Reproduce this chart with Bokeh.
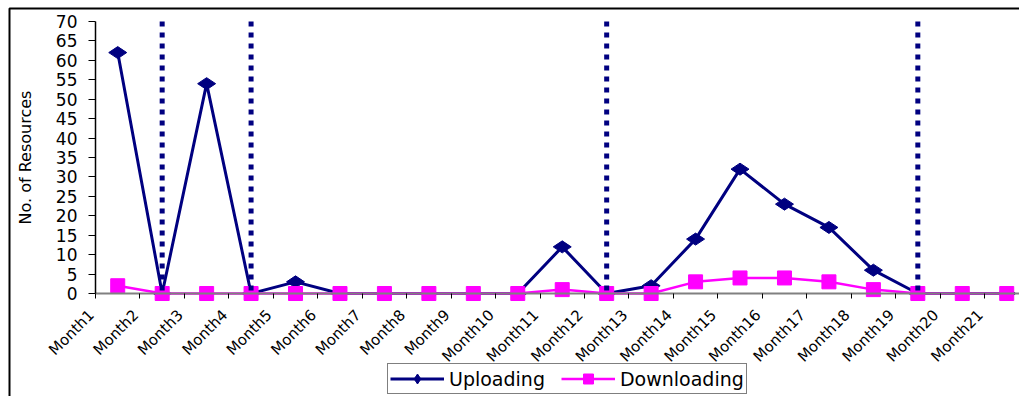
import math
from bokeh.plotting import figure
from bokeh.models import FixedTicker, Range1d, Legend, LegendItem, BoxAnnotation, LinearAxis
from bokeh.embed import file_html
from bokeh.resources import INLINE

months = ["Month1", "Month2", "Month3", "Month4", "Month5", "Month6", "Month7",
          "Month8", "Month9", "Month10", "Month11", "Month12", "Month13", "Month14",
          "Month15", "Month16", "Month17", "Month18", "Month19", "Month20", "Month21"]
uploading = [62, 0, 54, 0, 3, 0, 0, 0, 0, 0, 12, 0, 2, 14, 32, 23, 17, 6, 0, 0, 0]
downloading = [2, 0, 0, 0, 0, 0, 0, 0, 0, 0, 1, 0, 0, 3, 4, 4, 3, 1, 0, 0, 0]
marked_months = ["Month2", "Month4", "Month12", "Month19"]
y_ticks = [0, 5, 10, 15, 20, 25, 30, 35, 40, 45, 50, 55, 60, 65, 70]

FONT = "DejaVu Sans"
NAVY = "#000080"
MAGENTA = "#FF00FF"

W, H = 1019, 396
# plot-area placement (pixels) and scales
AX_X, AX_Y, TOP_Y = 95, 293, 21
CAT_W = 44.45
Y_PX = (AX_Y - TOP_Y) / y_ticks[-1]
LABEL_SHIFT = 0.09  # labels end slightly left of the boundary tick

x_start = -AX_X / CAT_W
x_end = (W - AX_X) / CAT_W
y_end = y_ticks[-1] + TOP_Y / Y_PX
y_start = -(H - AX_Y) / Y_PX

# category centres sit half-way between boundary ticks
xs = [i + 0.5 for i in range(len(months))]

p = figure(width=W, height=H, output_backend="svg", toolbar_location=None,
           x_range=Range1d(x_start, x_end), y_range=Range1d(y_start, y_end),
           min_border_left=0, min_border_right=0, min_border_top=0,
           min_border_bottom=0)
p.extra_x_ranges = {"lab": Range1d(x_start + LABEL_SHIFT, x_end + LABEL_SHIFT)}
p.outline_line_color = None
p.xgrid.visible = False
p.ygrid.visible = False
p.background_fill_color = "#FFFFFF"

# chart-area border (top and left edges visible)
p.add_layout(BoxAnnotation(left=9, right=W + 50, top=H - 8, bottom=-60,
                           left_units="screen", right_units="screen",
                           top_units="screen", bottom_units="screen",
                           fill_color=None, line_color="#000000",
                           line_alpha=1.0, line_width=2))

# x axis: line and boundary ticks
xa = p.xaxis[0]
xa.ticker = FixedTicker(ticks=list(range(0, len(months) + 1)))
xa.major_label_overrides = {i: "" for i in range(len(months) + 1)}
xa.fixed_location = 0
xa.bounds = (0, x_end)
xa.axis_line_color = "#808080"
xa.axis_line_width = 2
xa.major_tick_out = 5
xa.major_tick_in = 0
xa.major_tick_line_color = "#000000"
xa.minor_tick_line_color = None

# x axis: month labels
xl = LinearAxis(x_range_name="lab", fixed_location=0,
                ticker=FixedTicker(ticks=list(range(len(months)))),
                major_label_overrides={i: months[i] for i in range(len(months))},
                major_label_orientation=math.pi / 4,
                axis_line_color=None, major_tick_line_color=None,
                minor_tick_line_color=None, major_tick_out=5, major_tick_in=0,
                major_label_text_font=FONT, major_label_text_font_size="15px",
                major_label_text_color="#000000", major_label_standoff=14)
p.add_layout(xl, "below")

# y axis
ya = p.yaxis[0]
ya.ticker = FixedTicker(ticks=y_ticks)
ya.fixed_location = 0
ya.bounds = (y_ticks[0], y_ticks[-1])
ya.axis_line_color = "#000000"
ya.axis_line_width = 1.5
ya.major_tick_out = 7
ya.major_tick_in = 0
ya.minor_tick_line_color = None
ya.major_tick_line_color = "#000000"
ya.major_label_text_font = FONT
ya.major_label_text_font_size = "17px"
ya.major_label_text_color = "#000000"
ya.major_label_standoff = 11
ya.axis_label = "No. of Resources"
ya.axis_label_text_font = FONT
ya.axis_label_text_font_size = "16px"
ya.axis_label_text_font_style = "normal"
ya.axis_label_text_color = "#000000"
ya.axis_label_standoff = 18

r1 = p.line(xs, uploading, line_color=NAVY, line_width=3)
r2 = p.scatter(xs, uploading, marker="diamond", size=18, angle=math.pi / 2,
               fill_color=NAVY, line_color=NAVY)
r3 = p.line(xs, downloading, line_color=MAGENTA, line_width=2.5)
r4 = p.scatter(xs, downloading, marker="square", size=14,
               fill_color=MAGENTA, line_color=MAGENTA)

mx = [xs[months.index(m)] for m in marked_months]
p.segment(x0=mx, y0=[y_ticks[-1]] * len(mx), x1=mx, y1=[y_ticks[0]] * len(mx),
          line_color=NAVY, line_width=5, line_dash="5 6")

legend = Legend(items=[LegendItem(label="Uploading", renderers=[r1, r2]),
                       LegendItem(label="Downloading", renderers=[r3, r4])],
                orientation="horizontal", location=(387, 2),
                label_text_font=FONT, label_text_font_size="19px",
                label_text_color="#000000",
                glyph_width=54, glyph_height=25, label_standoff=5, spacing=16,
                padding=2, margin=0,
                border_line_color="#000000", border_line_width=1.5,
                background_fill_color="#FFFFFF", background_fill_alpha=1.0)
p.add_layout(legend, "center")

open("out.html", "w").write(file_html(p, INLINE))
